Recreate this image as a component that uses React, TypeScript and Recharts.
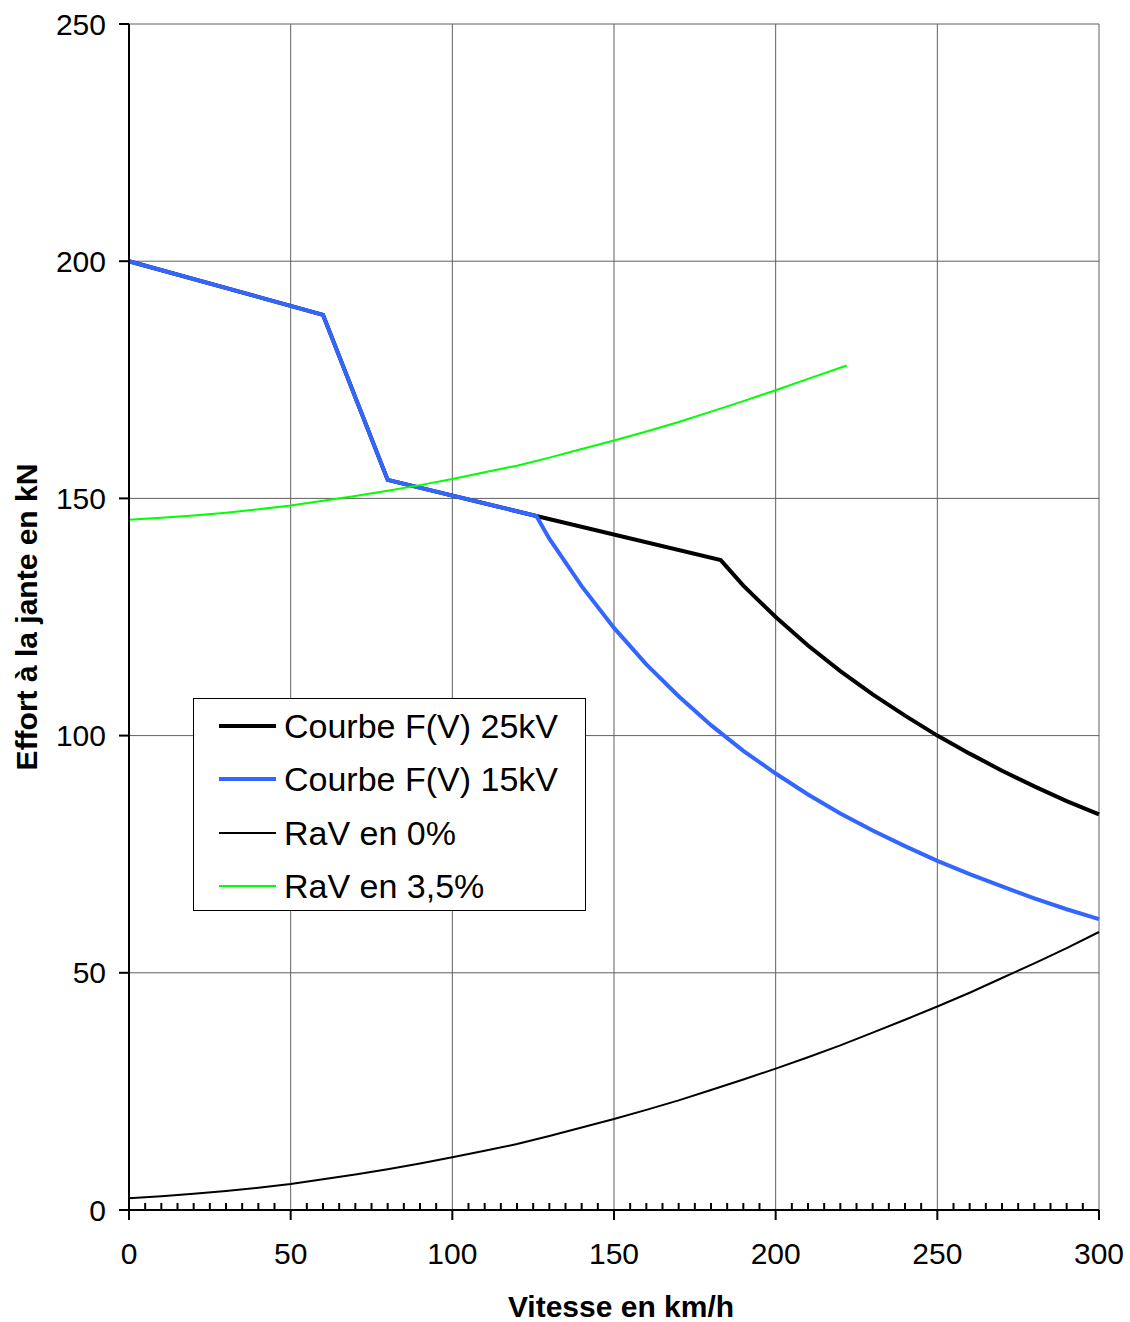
import React from 'react';
import { LineChart, Line, XAxis, YAxis, CartesianGrid, Legend } from 'recharts';

const FONT = '"Liberation Sans", Arial, sans-serif';

// vitesse (km/h) et effort (kN)
const speeds25 = [0, 60, 80, 126, 183, 190, 200, 210, 220, 230, 240, 250, 260, 270, 280, 290, 300];
const effort25 = [200, 188.7, 153.9, 146.3, 137.0, 131.6, 125.0, 119.0, 113.6, 108.7, 104.2, 100.0, 96.2, 92.6, 89.3, 86.2, 83.4];

const speeds15 = [0, 60, 80, 126, 130, 140, 150, 160, 170, 180, 190, 200, 210, 220, 230, 240, 250, 260, 270, 280, 290, 300];
const effort15 = [200, 188.7, 153.9, 146.3, 141.5, 131.5, 122.7, 115.0, 108.3, 102.2, 96.8, 92.0, 87.6, 83.6, 80.0, 76.7, 73.6, 70.8, 68.2, 65.7, 63.4, 61.3];

const speedsRav0 = [0, 10, 20, 30, 40, 50, 60, 70, 80, 90, 100, 110, 120, 130, 140, 150, 160, 170, 180, 190, 200, 210, 220, 230, 240, 250, 260, 270, 280, 290, 300];
const rav0 = [2.5, 2.9, 3.4, 4.0, 4.7, 5.5, 6.5, 7.5, 8.6, 9.8, 11.1, 12.5, 13.9, 15.6, 17.4, 19.2, 21.1, 23.1, 25.3, 27.5, 29.8, 32.2, 34.7, 37.4, 40.1, 42.9, 45.8, 48.9, 52.0, 55.2, 58.6];

const speedsRav35 = [0, 10, 20, 30, 40, 50, 60, 70, 80, 90, 100, 110, 120, 130, 140, 150, 160, 170, 180, 190, 200, 210, 222];
const rav35 = [145.5, 145.9, 146.4, 147.0, 147.7, 148.5, 149.5, 150.5, 151.6, 152.8, 154.1, 155.5, 156.9, 158.6, 160.4, 162.2, 164.1, 166.1, 168.3, 170.5, 172.8, 175.2, 178.0];

const seriesNames = ['Courbe F(V) 25kV', 'Courbe F(V) 15kV', 'RaV en 0%', 'RaV en 3,5%'];

const xMajorTicks = [0, 50, 100, 150, 200, 250, 300];
const xMinorTicks = [0, 5, 10, 15, 20, 25, 30, 35, 40, 45, 50, 55, 60, 65, 70, 75, 80, 85, 90, 95, 100, 105, 110, 115, 120, 125, 130, 135, 140, 145, 150, 155, 160, 165, 170, 175, 180, 185, 190, 195, 200, 205, 210, 215, 220, 225, 230, 235, 240, 245, 250, 255, 260, 265, 270, 275, 280, 285, 290, 295, 300];
const yTicks = [0, 50, 100, 150, 200, 250];

const toPoints = (xs: number[], ys: number[]) => xs.map((v, i) => ({ v, f: ys[i] }));

const X_TICK_SIZE = 10;
const X_TICK_MARGIN = 23;

function XTick(props: any) {
  const { x, y, payload } = props;
  const v = payload.value;
  const axisY = y - X_TICK_SIZE - X_TICK_MARGIN;
  if (v % 50 === 0) {
    return (
      <g>
        <line x1={x} x2={x} y1={axisY} y2={axisY + X_TICK_SIZE} stroke="#000" strokeWidth={2} />
        <text x={x} y={y} dy="0.71em" textAnchor="middle" fontSize={30} fontFamily={FONT} fill="#000">
          {v}
        </text>
      </g>
    );
  }
  return <line x1={x} x2={x} y1={axisY} y2={axisY - 7} stroke="#000" strokeWidth={2} />;
}

function LegendBox(props: any) {
  const { payload = [] } = props;
  const items = [...payload].sort((a: any, b: any) => seriesNames.indexOf(a.value) - seriesNames.indexOf(b.value));
  return (
    <div
      style={{
        width: 393,
        height: 213,
        border: '1px solid #000',
        background: '#fff',
        boxSizing: 'border-box',
        position: 'relative',
        fontFamily: FONT,
      }}
    >
      {items.map((e: any, i: number) => (
        <div
          key={e.value}
          style={{ position: 'absolute', left: 0, top: 7 + i * 53.3, height: 40, display: 'flex', alignItems: 'center' }}
        >
          <span
            style={{
              display: 'inline-block',
              marginLeft: 25,
              width: 57,
              height: e.payload?.strokeWidth ?? 2,
              background: e.color,
            }}
          />
          <span style={{ marginLeft: 8, fontSize: 34, lineHeight: '40px', color: '#000' }}>{e.value}</span>
        </div>
      ))}
    </div>
  );
}

const verticalGrid = ({ xAxis, offset }: any) =>
  xMajorTicks.map((t) =>
    xAxis && typeof xAxis.scale === 'function' ? xAxis.scale(t) : offset.left + (t / 300) * offset.width
  );

export default function App() {
  return (
    <div style={{ position: 'absolute', left: 0, top: 0 }}>
      <LineChart width={1130} height={1322} margin={{ top: 24, right: 31, left: 69, bottom: 52 }}>
        <CartesianGrid stroke="#606060" strokeWidth={1} verticalCoordinatesGenerator={verticalGrid} />
        <XAxis
          type="number"
          dataKey="v"
          domain={[0, 300]}
          ticks={xMinorTicks}
          interval={0}
          height={60}
          tickSize={X_TICK_SIZE}
          tickMargin={X_TICK_MARGIN}
          tickLine={false}
          tick={<XTick />}
          axisLine={{ stroke: '#000', strokeWidth: 2 }}
          label={{
            content: (p: any) => {
              const vb = p.viewBox;
              return (
                <text
                  x={vb.x + vb.width / 2 + 7}
                  y={1317}
                  textAnchor="middle"
                  fontSize={30}
                  fontWeight="bold"
                  fontFamily={FONT}
                  fill="#000"
                >
                  Vitesse en km/h
                </text>
              );
            },
          }}
        />
        <YAxis
          type="number"
          domain={[0, 250]}
          ticks={yTicks}
          width={60}
          tickSize={10}
          tickMargin={13}
          tick={{ fontSize: 30, fontFamily: FONT, fill: '#000' }}
          tickLine={{ stroke: '#000', strokeWidth: 2 }}
          axisLine={{ stroke: '#000', strokeWidth: 2 }}
          label={{
            content: (p: any) => {
              const vb = p.viewBox;
              const cy = vb.y + vb.height / 2;
              return (
                <text
                  x={37}
                  y={cy}
                  transform={`rotate(-90 37 ${cy})`}
                  textAnchor="middle"
                  fontSize={30}
                  fontWeight="bold"
                  fontFamily={FONT}
                  fill="#000"
                >
                  Effort à la jante en kN
                </text>
              );
            },
          }}
        />
        <Legend
          layout="vertical"
          align="center"
          verticalAlign="middle"
          content={<LegendBox />}
          wrapperStyle={{ left: 193, top: 698, width: 393, height: 213 }}
        />
        <Line
          name={seriesNames[0]}
          data={toPoints(speeds25, effort25)}
          dataKey="f"
          type="linear"
          stroke="#000000"
          strokeWidth={4}
          dot={false}
          isAnimationActive={false}
        />
        <Line
          name={seriesNames[1]}
          data={toPoints(speeds15, effort15)}
          dataKey="f"
          type="linear"
          stroke="#3366ff"
          strokeWidth={4}
          dot={false}
          isAnimationActive={false}
        />
        <Line
          name={seriesNames[2]}
          data={toPoints(speedsRav0, rav0)}
          dataKey="f"
          type="linear"
          stroke="#000000"
          strokeWidth={2}
          dot={false}
          isAnimationActive={false}
        />
        <Line
          name={seriesNames[3]}
          data={toPoints(speedsRav35, rav35)}
          dataKey="f"
          type="linear"
          stroke="#00ff00"
          strokeWidth={2}
          dot={false}
          isAnimationActive={false}
        />
      </LineChart>
    </div>
  );
}
